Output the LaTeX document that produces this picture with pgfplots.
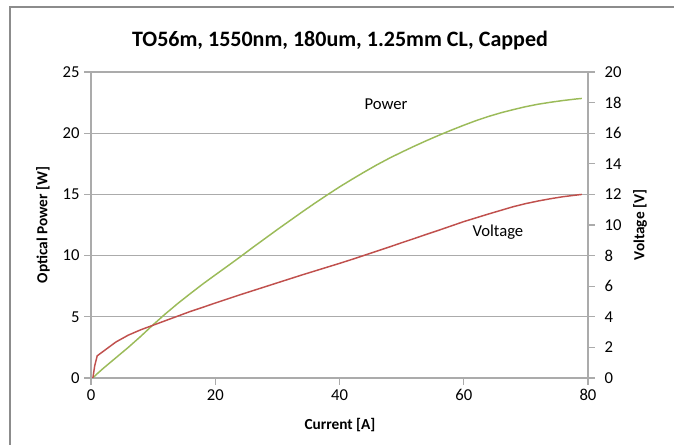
\documentclass[border=0pt]{standalone}
\usepackage{fontspec}
\setmainfont{Carlito}
\setsansfont{Carlito}
\usepackage{pgfplots}
\pgfplotsset{compat=1.18}
\definecolor{pgreen}{HTML}{9BBB59}
\definecolor{vred}{HTML}{C0504D}
\definecolor{gridg}{HTML}{ABABAB}
\definecolor{frameg}{HTML}{8C8C8C}

\pgfplotstableread{
I P
0.3 0
1 0.35
2 0.8
4 1.65
6 2.5
8 3.4
10 4.35
12 5.25
14 6.1
16 6.9
18 7.68
20 8.42
22 9.15
24 9.89
26 10.65
28 11.39
30 12.13
32 12.85
34 13.57
36 14.27
38 14.95
40 15.61
42 16.23
44 16.83
46 17.41
48 17.95
50 18.45
52 18.93
54 19.39
56 19.83
58 20.25
60 20.65
62 21.03
64 21.37
66 21.67
68 21.93
70 22.17
72 22.37
74 22.53
76 22.67
78 22.79
79 22.84
}\powerdata

\pgfplotstableread{
I V
0.3 0
0.6 0.8
1 1.45
2 1.75
3 2.05
4 2.35
6 2.8
8 3.15
10 3.45
12 3.75
14 4.05
16 4.35
18 4.62
20 4.9
22 5.17
24 5.44
26 5.7
28 5.96
30 6.22
32 6.48
34 6.74
36 6.99
38 7.24
40 7.49
42 7.75
44 8.02
46 8.29
48 8.56
50 8.84
52 9.11
54 9.39
56 9.66
58 9.94
60 10.22
62 10.47
64 10.72
66 10.96
68 11.2
70 11.4
72 11.57
74 11.72
76 11.85
78 11.95
79 12.0
}\voltdata

\begin{document}
\begin{tikzpicture}
\useasboundingbox (0,0) rectangle (505.5pt,333.75pt);
\draw[frameg, line width=0.8pt] (7.5pt,0) -- (7.5pt,328.5pt) -- (505.5pt,328.5pt);

\pgfplotsset{every axis/.append style={
  at={(68.25pt,50.25pt)}, anchor=south west,
  scale only axis, width=372.75pt, height=229.5pt,
  xmin=0, xmax=80,
  /pgf/number format/assume math mode=true,
  tick label style={font=\fontsize{12.5}{15}\selectfont},
  label style={font=\bfseries\fontsize{11.5}{14}\selectfont},
  axis line style={gridg, line width=0.8pt},
  tick style={gridg, line width=0.8pt},
  tick align=outside, major tick length=5pt,
}}

\begin{axis}[
  ymin=0, ymax=25, ytick={0,5,...,25},
  xtick={0,20,...,80},
  axis x line*=bottom, axis y line*=left,
  ymajorgrids, grid style={gridg, line width=0.8pt},
  xlabel={Current [A]},
  xlabel style={at={(axis description cs:0.501,-0.1536)}, anchor=center},
  ylabel={Optical Power [W]},
  ylabel style={at={(axis description cs:-0.0966,0.5)}, anchor=center},
  title={TO56m, 1550nm, 180um, 1.25mm CL, Capped},
  title style={at={(axis description cs:0.501,1.1046)}, anchor=center, yshift=-6.5pt,
    font=\bfseries\fontsize{16.5}{19}\selectfont},
]
\addplot[pgreen, line width=1.1pt] table[x=I, y=P] {\powerdata};
\node[font=\fontsize{12.5}{15}\selectfont] at (axis cs:47.5,22.4) {Power};
\node[font=\fontsize{12.5}{15}\selectfont] at (axis cs:65.5,11.9) {Voltage};
\end{axis}

\begin{axis}[
  ymin=0, ymax=20, ytick={0,2,...,20},
  axis x line=none, axis y line*=right,
  yticklabel style={xshift=4pt},
  ylabel={Voltage [V]},
  ylabel style={at={(axis description cs:1.1046,0.5)}, anchor=center},
]
\addplot[vred, line width=1.1pt] table[x=I, y=V] {\voltdata};
\end{axis}
\end{tikzpicture}
\end{document}
